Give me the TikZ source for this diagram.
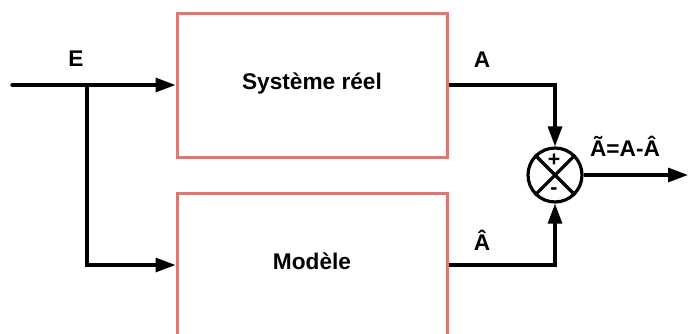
\documentclass[tikz,border=0pt]{standalone}
\usepackage{fontspec}
\setmainfont{Liberation Sans}
\usetikzlibrary{arrows.meta}
\definecolor{boxred}{RGB}{214,122,114}
\tikzset{
  blockbox/.style={draw=boxred, line width=2.25pt, fill=white, minimum width=202.5pt, minimum height=108pt, inner sep=0pt, font=\fontsize{17}{20}\selectfont\bfseries},
  sumnode/.style={draw=black, line width=2.4pt, circle, minimum size=40.5pt, inner sep=0pt},
  wire/.style={line width=2.4pt, -{Triangle[length=15pt,width=10.5pt]}},
  lbl/.style={font=\fontsize{17}{20}\selectfont\bfseries, inner sep=0pt},
  sgn/.style={font=\fontsize{16}{17}\selectfont\bfseries, inner sep=0pt}
}
\begin{document}
\begin{tikzpicture}[x=0.75pt, y=-0.75pt]
\useasboundingbox (0,0) rectangle (688,333);
\clip (0,0) rectangle (688,333);
\node[blockbox] (sys) at (312,85) {\raisebox{5pt}{Système réel}};
\node[blockbox] (mod) at (312,265) {\raisebox{5pt}{Modèle}};
\node[sumnode] (sum) at (555,175) {};
\draw[line width=2.4pt] (sum.north west) -- (sum.south east);
\draw[line width=2.4pt] (sum.north east) -- (sum.south west);
\node[sgn] (plus) at (554,160) {+};
\node[sgn] (minus) at (554,191) {-};
\coordinate (in) at (12,85);
\coordinate (br) at (87,85);
\coordinate (out) at (688,175);
\draw[wire, line cap=round] (in) -- (sys.west);
\draw[wire] (br) |- (mod.west);
\draw[wire] (sys.east) -| (sum.north);
\draw[wire] (mod.east) -| (sum.south);
\draw[wire] (sum.east) -- (out);
\node[lbl] (lE) at (76,59) {E};
\node[lbl] (lA) at (482,60) {A};
\node[lbl] (lAh) at (482,240) {Â};
\node[lbl] (lD) at (625,146) {Ã=A-Â};
\end{tikzpicture}
\end{document}
